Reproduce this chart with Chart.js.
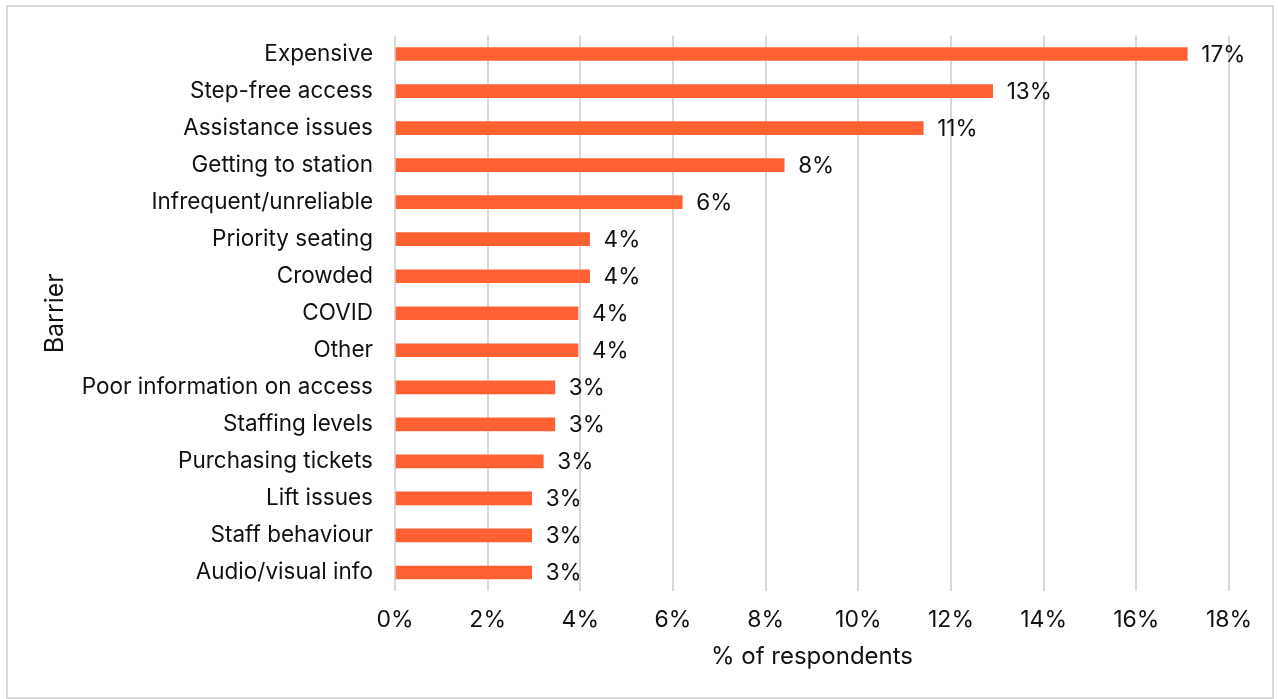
<!DOCTYPE html>
<html>
<head>
<meta charset="utf-8">
<script src="https://cdn.jsdelivr.net/npm/chart.js@4/dist/chart.umd.min.js"></script>
<style>
    body { margin: 0; background: #fff; }
    #wrap { position: relative; width: 1278px; height: 699px; }
    #frame { position: absolute; left: 6px; top: 5px; width: 1264px; height: 690px; border: 2px solid #d9d9d9; pointer-events: none; }
</style>
</head>
<body>
<div id="wrap">
    <canvas id="barrierChart" width="1278" height="699"></canvas>
    <div id="frame"></div>
</div>
<script>
// Dados do gráfico
const barriers = ['Expensive', 'Step-free access', 'Assistance issues', 'Getting to station', 'Infrequent/unreliable',
    'Priority seating', 'Crowded', 'COVID', 'Other', 'Poor information on access', 'Staffing levels',
    'Purchasing tickets', 'Lift issues', 'Staff behaviour', 'Audio/visual info'];
const respondents = [17.1, 12.9, 11.4, 8.4, 6.2, 4.2, 4.2, 3.95, 3.95, 3.45, 3.45, 3.2, 2.95, 2.95, 2.95];
const xTicks = [0, 2, 4, 6, 8, 10, 12, 14, 16, 18];

const FONT = 'Inter, "Liberation Sans", sans-serif';

// Plugin simples para os rótulos no fim das barras
const barLabels = {
    id: 'barLabels',
    afterDatasetsDraw(chart) {
        const ctx = chart.ctx;
        const meta = chart.getDatasetMeta(0);
        ctx.save();
        ctx.font = '22.5px ' + FONT;
        ctx.fillStyle = '#111';
        ctx.textAlign = 'left';
        ctx.textBaseline = 'middle';
        meta.data.forEach((bar, i) => {
            ctx.fillText(Math.round(respondents[i]) + '%', bar.x + 14, bar.y + 1);
        });
        ctx.restore();
    }
};

new Chart(document.getElementById('barrierChart').getContext('2d'), {
    type: 'bar',
    data: {
        labels: barriers,
        datasets: [{
            data: respondents,
            backgroundColor: '#FF6133',
            barThickness: 13
        }]
    },
    options: {
        indexAxis: 'y',
        responsive: false,
        animation: false,
        layout: { padding: { top: 34, right: 49, left: 0, bottom: 0 } },
        plugins: { legend: { display: false }, tooltip: { enabled: false } },
        scales: {
            x: {
                min: 0,
                max: 18,
                afterBuildTicks(scale) {
                    scale.ticks = xTicks.map(v => ({ value: v }));
                },
                afterFit(scale) { scale.height = 108; },
                grid: { color: '#d9d9d9', lineWidth: 2, drawTicks: false },
                border: { display: false },
                ticks: {
                    padding: 15,
                    color: '#111',
                    font: { family: FONT, size: 23 },
                    callback: v => v + '%'
                },
                title: {
                    display: true,
                    text: '% of respondents',
                    color: '#111',
                    font: { family: FONT, size: 24 },
                    padding: { bottom: 28 }
                }
            },
            y: {
                afterFit(scale) { scale.width = 395; },
                grid: { display: false, drawTicks: false },
                border: { display: false },
                ticks: {
                    padding: 22,
                    color: '#111',
                    font: { family: FONT, size: 22.5 }
                },
                title: {
                    display: true,
                    text: 'Barrier',
                    color: '#111',
                    font: { family: FONT, size: 25 },
                    padding: { top: 40 }
                }
            }
        }
    },
    plugins: [barLabels]
});
</script>
</body>
</html>
